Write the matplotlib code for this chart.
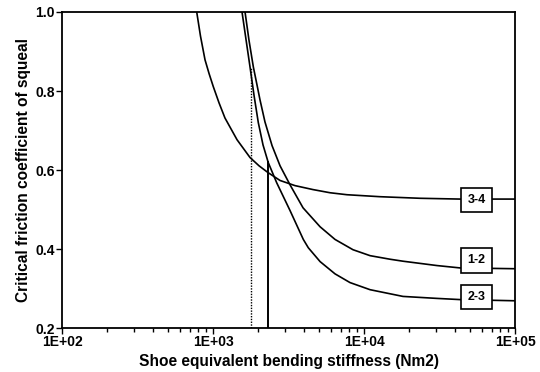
import numpy as np
import matplotlib
matplotlib.use("Agg")
import matplotlib.pyplot as plt
from matplotlib.ticker import FixedLocator, NullFormatter, LogLocator

plt.rcParams['font.family'] = ['Liberation Sans', 'DejaVu Sans']

# Curve readings (log10 of stiffness, critical friction coefficient)
logx_34 = [2.892, 2.917, 2.947, 2.974, 3.002, 3.040, 3.079, 3.159, 3.245, 3.305,
           3.364, 3.444, 3.543, 3.662, 3.775, 3.887, 4.106, 4.371, 4.636, 5.0]
mu_34 = [1.000, 0.939, 0.879, 0.844, 0.811, 0.770, 0.732, 0.677, 0.632, 0.611,
         0.594, 0.574, 0.561, 0.551, 0.543, 0.538, 0.533, 0.529, 0.527, 0.527]

logx_12 = [3.212, 3.238, 3.267, 3.291, 3.311, 3.344, 3.391, 3.444, 3.510, 3.596,
           3.709, 3.808, 3.927, 4.040, 4.172, 4.258, 4.483, 4.636, 5.0]
mu_12 = [1.000, 0.929, 0.861, 0.816, 0.778, 0.722, 0.662, 0.611, 0.563, 0.505,
         0.457, 0.425, 0.399, 0.384, 0.375, 0.370, 0.359, 0.353, 0.351]

logx_23 = [3.192, 3.219, 3.245, 3.272, 3.300, 3.331, 3.366, 3.422, 3.510, 3.598,
           3.631, 3.709, 3.808, 3.907, 4.040, 4.258, 4.483, 4.636, 5.0]
mu_23 = [1.000, 0.929, 0.861, 0.788, 0.720, 0.664, 0.619, 0.568, 0.498, 0.425,
         0.404, 0.369, 0.338, 0.316, 0.298, 0.281, 0.276, 0.273, 0.270]

labels = ["3-4", "1-2", "2-3"]
label_logx = 4.745
label_mu = [0.525, 0.372, 0.279]

# vertical marker lines
dotted_x, dotted_top = 1790, 0.862
solid_x, solid_top = 2300, 0.620

xticks = [1e2, 1e3, 1e4, 1e5]
xticklabels = ["1E+02", "1E+03", "1E+04", "1E+05"]
yticks = [0.2, 0.4, 0.6, 0.8, 1.0]
yticklabels = ["0.2", "0.4", "0.6", "0.8", "1.0"]

fig = plt.figure(figsize=(5.40, 3.72), dpi=100)
ax = fig.add_axes([0.1148, 0.117, 0.839, 0.851])

lw = 1.2
for lx, mu in [(logx_34, mu_34), (logx_12, mu_12), (logx_23, mu_23)]:
    ax.plot(10 ** np.array(lx), mu, color='black', lw=lw, zorder=2,
            solid_joinstyle='round', solid_capstyle='round')

ax.plot([dotted_x, dotted_x], [0.2, dotted_top], color='black', lw=1.0, ls=(0, (1, 1)), zorder=2)
ax.plot([solid_x, solid_x], [0.2, solid_top], color='black', lw=1.4, zorder=2)

for lab, m in zip(labels, label_mu):
    ax.text(10 ** label_logx, m, lab, ha='center', va='center', fontsize=9,
            fontweight='bold', zorder=5,
            bbox=dict(boxstyle='square,pad=0.5', fc='white', ec='black', lw=1.2))

ax.set_xscale('log')
ax.set_xlim(1e2, 1e5)
ax.set_ylim(0.2, 1.0)
ax.xaxis.set_major_locator(FixedLocator(xticks))
ax.set_xticklabels(xticklabels)
ax.xaxis.set_minor_locator(LogLocator(base=10, subs=np.arange(2, 10)))
ax.xaxis.set_minor_formatter(NullFormatter())
ax.set_yticks(yticks)
ax.set_yticklabels(yticklabels)

ax.tick_params(axis='both', which='major', direction='out', length=4, width=1.0,
               labelsize=10, pad=1)
ax.tick_params(axis='x', which='minor', direction='out', length=3, width=1.0)
for lbl in ax.get_xticklabels() + ax.get_yticklabels():
    lbl.set_fontweight('bold')

for s in ax.spines.values():
    s.set_linewidth(1.3)

ax.set_xlabel("Shoe equivalent bending stiffness (Nm2)", fontsize=11.2,
              fontweight='bold', labelpad=3)
ax.set_ylabel("Critical friction coefficient of squeal", fontsize=11.2,
              fontweight='bold', labelpad=3)

fig.savefig("out.png", dpi=100)
